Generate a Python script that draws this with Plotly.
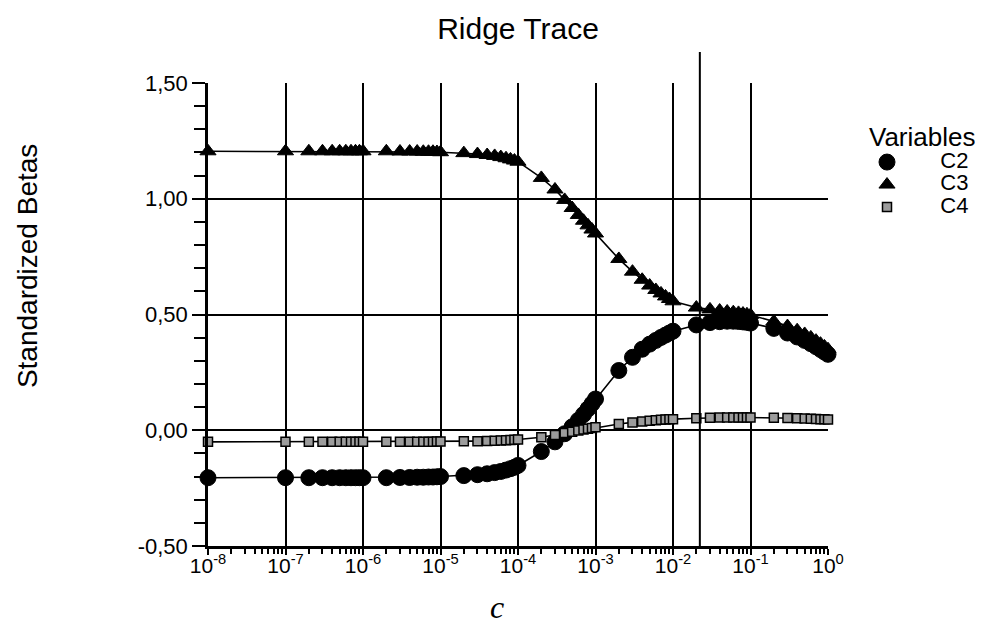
import plotly.graph_objects as go

# ---- data ----
C_VALUES = [
    1e-8,
    1e-7, 2e-7, 3e-7, 4e-7, 5e-7, 6e-7, 7e-7, 8e-7, 9e-7,
    1e-6, 2e-6, 3e-6, 4e-6, 5e-6, 6e-6, 7e-6, 8e-6, 9e-6,
    1e-5, 2e-5, 3e-5, 4e-5, 5e-5, 6e-5, 7e-5, 8e-5, 9e-5,
    1e-4, 2e-4, 3e-4, 4e-4, 5e-4, 6e-4, 7e-4, 8e-4, 9e-4,
    1e-3, 2e-3, 3e-3, 4e-3, 5e-3, 6e-3, 7e-3, 8e-3, 9e-3,
    1e-2, 2e-2, 3e-2, 4e-2, 5e-2, 6e-2, 7e-2, 8e-2, 9e-2,
    1e-1, 2e-1, 3e-1, 4e-1, 5e-1, 6e-1, 7e-1, 8e-1, 9e-1,
    1.0,
]

C2 = [
    -0.205,
    -0.205, -0.205, -0.205, -0.205, -0.205, -0.205, -0.205, -0.205, -0.205,
    -0.205, -0.205, -0.204, -0.204, -0.203, -0.203, -0.202, -0.202, -0.201,
    -0.200, -0.196, -0.192, -0.188, -0.183, -0.178, -0.172, -0.166, -0.160,
    -0.152, -0.092, -0.050, -0.015, 0.015, 0.043, 0.068, 0.092, 0.114,
    0.135, 0.258, 0.315, 0.350, 0.372, 0.388, 0.401, 0.411, 0.420,
    0.428, 0.455, 0.465, 0.469, 0.471, 0.471, 0.470, 0.468, 0.466,
    0.463, 0.440, 0.420, 0.403, 0.388, 0.374, 0.361, 0.349, 0.338,
    0.328,
]

C3 = [
    1.205,
    1.205, 1.205, 1.205, 1.205, 1.205, 1.205, 1.205, 1.205, 1.205,
    1.205, 1.205, 1.204, 1.204, 1.204, 1.203, 1.203, 1.203, 1.202,
    1.201, 1.197, 1.193, 1.189, 1.185, 1.180, 1.175, 1.170, 1.165,
    1.160, 1.090, 1.040, 0.995, 0.960, 0.930, 0.905, 0.885, 0.867,
    0.850, 0.740, 0.685, 0.650, 0.625, 0.606, 0.591, 0.578, 0.567,
    0.557, 0.530, 0.522, 0.517, 0.513, 0.510, 0.507, 0.504, 0.501,
    0.498, 0.470, 0.450, 0.432, 0.416, 0.401, 0.387, 0.374, 0.362,
    0.350,
]

C4 = [
    -0.050,
    -0.050, -0.050, -0.050, -0.050, -0.050, -0.050, -0.050, -0.050, -0.050,
    -0.050, -0.050, -0.050, -0.050, -0.050, -0.050, -0.050, -0.050, -0.049,
    -0.049, -0.048, -0.047, -0.046, -0.045, -0.044, -0.043, -0.042, -0.041,
    -0.040, -0.030, -0.020, -0.012, -0.006, -0.001, 0.003, 0.007, 0.010,
    0.013, 0.027, 0.034, 0.038, 0.041, 0.043, 0.045, 0.046, 0.047,
    0.048, 0.052, 0.054, 0.055, 0.055, 0.055, 0.055, 0.055, 0.055,
    0.055, 0.054, 0.053, 0.052, 0.051, 0.050, 0.049, 0.048, 0.047,
    0.046,
]

SELECTED_C = 0.0222  # marked ridge value (vertical line)

X_TICK_VALUES = [1e-8, 1e-7, 1e-6, 1e-5, 1e-4, 1e-3, 1e-2, 1e-1, 1e0]
X_TICK_LABELS = ["10<sup>-8</sup>", "10<sup>-7</sup>", "10<sup>-6</sup>",
                 "10<sup>-5</sup>", "10<sup>-4</sup>", "10<sup>-3</sup>",
                 "10<sup>-2</sup>", "10<sup>-1</sup>", "10<sup>0</sup>"]
Y_TICK_VALUES = [-0.5, 0.0, 0.5, 1.0, 1.5]
Y_TICK_LABELS = ["-0,50", "0,00", "0,50", "1,00", "1,50"]

SERIES_NAMES = ["C2", "C3", "C4"]

# ---- figure ----
FONT = "Liberation Sans, Arial, sans-serif"
PAD = "\u00a0" * 8

fig = go.Figure()

series = [C2, C3, C4]
for vals in series:
    fig.add_trace(go.Scatter(x=C_VALUES, y=vals, mode="lines",
                             line=dict(color="black", width=1.6),
                             showlegend=False, cliponaxis=False,
                             hoverinfo="skip"))

marker_styles = [
    dict(symbol="circle", size=16, color="black", line=dict(color="black", width=1)),
    dict(symbol="triangle-up", size=14, color="black", line=dict(color="black", width=1)),
    dict(symbol="square", size=9, color="#9c9c9c", line=dict(color="black", width=1.5)),
]
for name, vals, ms in zip(SERIES_NAMES, series, marker_styles):
    fig.add_trace(go.Scatter(
        x=C_VALUES, y=vals, mode="markers",
        name=PAD + '<span style="font-size:22px">' + name + "</span>",
        marker=ms, cliponaxis=False))

minor_x = [m * 10 ** k for k in range(-8, 0) for m in range(2, 10)]

fig.update_xaxes(
    type="log", range=[-8, 0],
    tickmode="array", tickvals=X_TICK_VALUES, ticktext=X_TICK_LABELS,
    ticks="outside", ticklen=6, tickwidth=2, tickcolor="black",
    ticklabelstandoff=-7,
    showline=True, linecolor="black", linewidth=2.5,
    showgrid=True, gridcolor="black", gridwidth=2,
    zeroline=False,
    tickfont=dict(family=FONT, size=21, color="black"),
    minor=dict(tickmode="array", tickvals=minor_x, ticks="outside",
               ticklen=5, tickwidth=1.5, tickcolor="black", showgrid=False),
)
fig.update_yaxes(
    range=[-0.5, 1.5],
    tickmode="array", tickvals=Y_TICK_VALUES, ticktext=Y_TICK_LABELS,
    ticks="outside", ticklen=13, tickwidth=2, tickcolor="black",
    showline=True, linecolor="black", linewidth=2.5,
    showgrid=True, gridcolor="black", gridwidth=2,
    zeroline=False,
    tickfont=dict(family=FONT, size=22, color="black"),
    minor=dict(tickmode="linear", tick0=-0.5, dtick=0.1, ticks="outside",
               ticklen=11, tickwidth=2, tickcolor="black", showgrid=False),
)

fig.add_shape(type="line", xref="x", yref="paper",
              x0=SELECTED_C, x1=SELECTED_C,
              y0=0, y1=1.067, line=dict(color="black", width=2))

fig.add_annotation(text="Standardized Betas", xref="paper", yref="paper",
                   x=-0.29, y=0.605, textangle=-90, showarrow=False,
                   xanchor="center", yanchor="middle",
                   font=dict(family=FONT, size=28, color="black"))
fig.add_annotation(text="<i>c</i>", xref="paper", yref="paper",
                   x=0.466, y=-0.132, showarrow=False,
                   xanchor="center", yanchor="middle",
                   font=dict(family="Liberation Serif, Times New Roman, serif",
                             size=32, color="black"))

fig.update_layout(
    width=975, height=625,
    margin=dict(l=200, r=155, t=75, b=87, autoexpand=False),
    paper_bgcolor="white", plot_bgcolor="white",
    title=dict(text="Ridge Trace", x=0.5, xref="paper", y=1 - 20 / 625,
               yanchor="middle", xanchor="center",
               font=dict(family=FONT, size=30, color="black")),
    legend=dict(title=dict(text="Variables",
                           font=dict(family=FONT, size=26, color="black")),
                x=(867 - 208) / 620, y=(546 - 112) / 463,
                xanchor="left", yanchor="top",
                font=dict(family=FONT, size=15, color="black"),
                bgcolor="rgba(0,0,0,0)", tracegroupgap=0),
    showlegend=True,
)

fig.write_html("out.html")
